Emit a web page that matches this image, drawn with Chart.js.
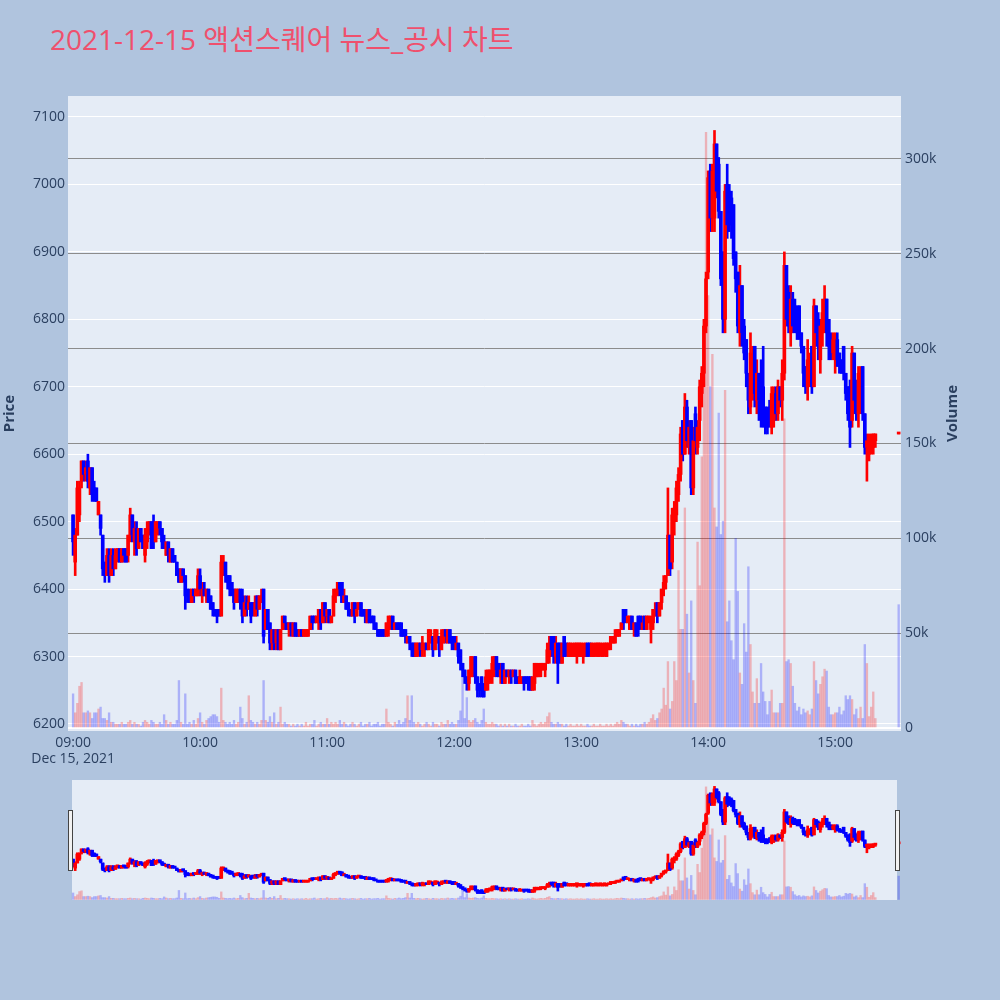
<!DOCTYPE html>
<html>
<head>
<meta charset="utf-8">
<script src="https://cdn.jsdelivr.net/npm/chart.js@4.4.1/dist/chart.umd.min.js"></script>
<style>
  body { margin: 0; background: #B0C4DE; width: 1000px; height: 1000px; overflow: hidden; position: relative; font-family: "Open Sans", "Noto Sans CJK KR", sans-serif; }
  #title { position: absolute; left: 50px; top: 20px; font-size: 28px; line-height: 38px; color: #EF506D; white-space: nowrap; font-family: "Open Sans", "Noto Sans CJK KR", sans-serif; }
  #main { position: absolute; left: 0; top: 0; }
  #slider { position: absolute; left: 0; top: 780px; }
</style>
</head>
<body>
<div id="title">2021-12-15 액션스퀘어 뉴스_공시 차트</div>
<canvas id="main" width="1000" height="780"></canvas>
<canvas id="slider" width="1000" height="120"></canvas>
<script>
// 1-minute candles, 09:00 .. 15:19, plus the 15:30 closing trade
const openP = [
  6510,6440,6480,6510,6560,6590,6570,6590,6550,6580,
  6550,6550,6510,6510,6480,6440,6420,6450,6420,6450,
  6430,6450,6460,6440,6460,6460,6450,6480,6510,6470,
  6490,6460,6490,6480,6450,6470,6490,6500,6500,6470,
  6490,6500,6490,6470,6450,6470,6440,6460,6450,6440,
  6430,6410,6430,6420,6400,6390,6380,6400,6390,6390,
  6420,6390,6400,6390,6400,6390,6380,6370,6370,6370,
  6360,6430,6440,6420,6420,6410,6400,6380,6390,6400,
  6390,6360,6380,6370,6380,6380,6360,6390,6370,6380,
  6400,6340,6370,6350,6320,6340,6320,6340,6310,6340,
  6360,6350,6340,6350,6330,6350,6340,6330,6340,6330,
  6330,6330,6340,6360,6360,6350,6350,6370,6350,6380,
  6360,6370,6350,6360,6390,6400,6410,6410,6380,6390,
  6380,6370,6360,6380,6360,6370,6380,6370,6370,6350,
  6370,6360,6360,6350,6340,6340,6340,6340,6330,6340,
  6350,6360,6340,6350,6350,6350,6340,6340,6320,6330,
  6320,6320,6300,6310,6320,6310,6310,6320,6310,6320,
  6330,6310,6320,6330,6310,6320,6340,6320,6340,6330,
  6330,6310,6320,6310,6290,6280,6270,6260,6270,6280,
  6300,6270,6260,6270,6260,6250,6260,6270,6280,6280,
  6300,6290,6270,6290,6260,6280,6270,6280,6270,6280,
  6270,6260,6260,6270,6270,6270,6270,6250,6260,6270,
  6270,6280,6280,6280,6290,6300,6330,6330,6300,6320,
  6320,6290,6330,6320,6300,6300,6300,6300,6310,6300,
  6300,6300,6300,6320,6320,6300,6300,6310,6300,6310,
  6300,6310,6300,6310,6320,6320,6320,6330,6330,6340,
  6370,6370,6350,6340,6360,6340,6350,6360,6360,6340,
  6360,6340,6350,6340,6350,6360,6380,6360,6380,6400,
  6410,6420,6480,6440,6500,6510,6540,6570,6650,6600,
  6670,6610,6650,6550,6660,6610,6650,6690,6720,6790,
  6870,7020,6950,6950,7060,7030,6960,6900,6800,7000,
  6990,6980,6970,6900,6870,6780,6850,6790,6770,6720,
  6670,6700,6760,6680,6720,6720,6700,6670,6660,6670,
  6640,6650,6690,6660,6700,6680,6720,6880,6840,6780,
  6830,6820,6810,6820,6780,6760,6730,6700,6720,6760,
  6700,6820,6800,6740,6780,6790,6830,6800,6770,6750,
  6750,6770,6750,6740,6760,6720,6700,6700,6650,6750,
  6700,6660,6690,6730,6660,6610,6600,6610,6610,6620,
  6630
];
const highP = [
  6510,6490,6560,6560,6590,6590,6590,6600,6580,6580,
  6560,6550,6530,6510,6480,6440,6460,6460,6460,6460,
  6460,6460,6460,6460,6460,6460,6480,6520,6510,6500,
  6500,6490,6490,6480,6490,6500,6500,6500,6510,6500,
  6500,6500,6490,6480,6470,6470,6460,6460,6450,6440,
  6430,6430,6430,6420,6400,6400,6400,6400,6400,6430,
  6430,6410,6410,6400,6400,6390,6380,6370,6370,6370,
  6450,6450,6440,6420,6420,6410,6400,6400,6400,6400,
  6400,6390,6390,6390,6380,6380,6390,6390,6390,6400,
  6400,6370,6370,6350,6340,6340,6340,6340,6340,6360,
  6360,6350,6350,6350,6350,6350,6340,6340,6340,6340,
  6340,6340,6360,6360,6360,6360,6370,6370,6380,6380,
  6370,6370,6360,6400,6400,6410,6410,6410,6400,6390,
  6380,6370,6380,6380,6380,6380,6380,6370,6370,6370,
  6370,6360,6360,6350,6340,6340,6340,6340,6350,6360,
  6360,6360,6350,6350,6350,6350,6340,6340,6330,6330,
  6320,6320,6320,6320,6320,6330,6320,6320,6340,6340,
  6330,6340,6340,6330,6340,6340,6340,6340,6340,6330,
  6330,6330,6320,6310,6290,6280,6270,6280,6300,6300,
  6300,6270,6260,6270,6260,6280,6280,6280,6300,6300,
  6300,6290,6290,6290,6280,6280,6280,6280,6280,6280,
  6270,6280,6270,6270,6270,6270,6270,6270,6290,6290,
  6290,6290,6290,6290,6320,6330,6330,6330,6330,6320,
  6320,6320,6330,6320,6320,6320,6320,6320,6320,6320,
  6320,6320,6320,6320,6320,6320,6320,6320,6320,6320,
  6320,6320,6320,6320,6330,6330,6340,6340,6340,6350,
  6370,6370,6360,6360,6360,6350,6350,6360,6360,6360,
  6360,6360,6360,6360,6370,6380,6380,6380,6400,6420,
  6420,6550,6480,6520,6530,6560,6580,6640,6650,6690,
  6680,6650,6650,6640,6670,6650,6710,6730,6800,6870,
  7020,7030,7030,7080,7060,7040,6960,6900,7000,7030,
  7000,6990,6970,6900,6870,6880,6850,6800,6770,6720,
  6780,6760,6760,6740,6720,6740,6760,6670,6670,6680,
  6700,6700,6700,6710,6700,6740,6900,6880,6850,6850,
  6840,6830,6820,6820,6780,6760,6730,6770,6750,6760,
  6830,6820,6810,6800,6830,6850,6830,6800,6780,6780,
  6780,6780,6750,6740,6760,6720,6700,6710,6760,6750,
  6710,6730,6730,6730,6660,6630,6630,6630,6630,6630,
  6630
];
const lowP = [
  6450,6420,6480,6500,6550,6560,6560,6550,6540,6530,
  6530,6530,6510,6480,6420,6410,6420,6410,6420,6420,
  6430,6440,6440,6440,6440,6440,6440,6470,6470,6450,
  6450,6460,6470,6460,6440,6460,6480,6460,6460,6470,
  6480,6480,6460,6460,6450,6440,6440,6440,6440,6420,
  6410,6410,6410,6370,6380,6380,6380,6380,6390,6390,
  6390,6380,6390,6380,6380,6370,6360,6360,6350,6360,
  6360,6420,6410,6400,6390,6390,6370,6380,6380,6370,
  6350,6360,6360,6370,6350,6360,6360,6360,6370,6380,
  6320,6340,6340,6310,6310,6310,6310,6310,6310,6340,
  6340,6340,6330,6330,6330,6330,6330,6330,6330,6330,
  6330,6330,6340,6340,6350,6350,6340,6340,6350,6350,
  6350,6350,6350,6360,6380,6390,6390,6380,6380,6370,
  6360,6360,6360,6350,6360,6370,6360,6360,6350,6350,
  6350,6350,6340,6340,6330,6330,6330,6330,6330,6330,
  6340,6340,6340,6340,6340,6330,6330,6320,6320,6310,
  6300,6300,6300,6300,6300,6300,6300,6310,6310,6320,
  6300,6310,6320,6300,6310,6320,6320,6320,6320,6310,
  6310,6310,6290,6280,6270,6260,6250,6250,6270,6270,
  6260,6240,6240,6240,6240,6250,6250,6260,6260,6270,
  6270,6270,6260,6260,6260,6270,6260,6260,6270,6260,
  6260,6260,6260,6250,6260,6250,6250,6250,6250,6270,
  6270,6270,6280,6270,6290,6290,6300,6290,6290,6260,
  6290,6290,6300,6300,6300,6300,6300,6300,6290,6300,
  6300,6290,6300,6300,6300,6300,6300,6300,6300,6300,
  6300,6300,6300,6310,6310,6320,6320,6330,6330,6340,
  6340,6350,6350,6340,6340,6330,6330,6330,6340,6340,
  6340,6340,6350,6320,6340,6360,6350,6360,6370,6390,
  6400,6420,6420,6430,6480,6500,6530,6560,6590,6600,
  6610,6600,6540,6540,6600,6600,6620,6670,6700,6780,
  6860,6930,6930,6930,6980,6950,6850,6780,6780,6920,
  6930,6920,6880,6840,6780,6760,6760,6740,6700,6660,
  6660,6680,6670,6660,6650,6640,6640,6630,6630,6640,
  6630,6640,6650,6650,6670,6650,6710,6790,6780,6760,
  6780,6780,6770,6770,6750,6700,6690,6680,6700,6690,
  6700,6760,6740,6720,6760,6780,6760,6740,6740,6740,
  6720,6730,6720,6720,6710,6680,6650,6610,6640,6660,
  6650,6640,6660,6650,6600,6560,6590,6600,6600,6610,
  6630
];
const closeP = [
  6470,6480,6550,6550,6590,6570,6580,6560,6580,6540,
  6540,6530,6530,6490,6430,6420,6450,6420,6450,6430,
  6450,6460,6440,6460,6450,6440,6480,6510,6480,6490,
  6460,6490,6470,6460,6480,6490,6500,6460,6470,6500,
  6500,6490,6470,6460,6470,6450,6460,6440,6440,6420,
  6410,6430,6420,6390,6390,6380,6400,6390,6400,6420,
  6400,6400,6390,6400,6380,6370,6370,6360,6360,6360,
  6440,6440,6420,6410,6400,6400,6380,6400,6400,6380,
  6360,6380,6370,6380,6360,6370,6380,6370,6390,6390,
  6330,6370,6340,6320,6340,6320,6340,6310,6340,6360,
  6350,6340,6350,6340,6350,6330,6330,6340,6330,6340,
  6340,6340,6360,6350,6350,6360,6370,6350,6380,6360,
  6370,6350,6360,6390,6400,6410,6400,6380,6390,6370,
  6370,6360,6380,6360,6370,6380,6360,6360,6360,6370,
  6350,6350,6350,6340,6330,6330,6330,6330,6350,6360,
  6360,6340,6350,6340,6340,6330,6330,6330,6330,6320,
  6310,6300,6320,6320,6310,6320,6320,6310,6340,6330,
  6310,6340,6330,6310,6330,6340,6330,6340,6320,6320,
  6320,6320,6300,6290,6280,6270,6260,6280,6300,6290,
  6270,6250,6250,6250,6240,6270,6280,6280,6290,6300,
  6280,6270,6280,6260,6280,6270,6280,6270,6280,6260,
  6260,6270,6270,6260,6260,6260,6250,6270,6290,6290,
  6280,6290,6290,6290,6310,6320,6310,6310,6320,6290,
  6300,6320,6300,6310,6320,6320,6310,6320,6320,6320,
  6320,6310,6320,6300,6310,6320,6310,6320,6320,6320,
  6310,6320,6320,6320,6330,6330,6330,6340,6340,6350,
  6350,6360,6360,6360,6340,6350,6330,6340,6350,6350,
  6340,6360,6360,6350,6370,6370,6360,6380,6400,6410,
  6420,6480,6430,6510,6520,6550,6570,6630,6600,6670,
  6620,6640,6550,6620,6620,6640,6700,6720,6790,6860,
  7010,6950,7020,7060,6990,6960,6860,6800,6990,6940,
  6940,6940,6890,6860,6790,6850,6780,6750,6720,6680,
  6750,6720,6690,6720,6680,6660,6660,6640,6640,6650,
  6690,6680,6660,6700,6680,6720,6880,6800,6790,6830,
  6790,6800,6780,6780,6760,6720,6700,6740,6740,6700,
  6820,6780,6760,6790,6810,6830,6780,6760,6750,6770,
  6770,6740,6730,6720,6720,6690,6660,6640,6750,6680,
  6660,6720,6720,6660,6610,6620,6610,6620,6630,6630,
  6630
];
// volume in thousands of shares
const volK = [
  18,8,13,22,24,8,8,9,8,5,
  8,8,10,11,5,5,4,8,3,3,
  2,2,2,3,2,2,3,4,2,3,
  2,2,1,3,4,3,2,4,3,2,
  2,3,2,7,4,2,3,2,2,4,
  25,3,2,18,2,3,2,4,2,5,
  8,3,2,4,5,6,7,7,6,3,
  21,4,3,2,3,2,4,2,3,11,
  5,2,3,17,4,3,2,3,2,4,
  25,4,3,6,3,8,2,3,11,2,
  3,2,2,1,2,1,2,1,2,1,
  3,1,2,2,4,1,2,3,2,2,
  5,2,3,2,3,2,4,2,3,2,
  1,2,3,2,1,2,3,1,2,2,
  3,1,2,2,3,1,2,2,10,3,
  2,1,3,2,4,2,3,5,17,4,
  17,3,2,3,2,1,2,3,2,1,
  3,2,2,1,3,2,2,4,2,3,
  2,2,4,9,32,5,16,4,3,4,
  5,3,2,4,10,3,2,2,3,2,
  2,1,2,1,2,1,2,1,1,2,
  1,1,2,1,1,2,1,4,2,1,
  2,3,2,3,6,8,3,2,2,3,
  2,2,1,2,1,2,1,1,2,1,
  2,1,1,2,1,1,2,1,1,2,
  1,1,2,1,2,1,2,3,2,4,
  3,2,2,1,2,1,2,1,2,2,
  3,2,3,5,7,4,5,8,10,21,
  12,35,10,14,35,25,83,52,52,116,
  60,29,67,25,13,98,75,143,189,314,
  228,180,197,116,106,166,102,109,178,56,
  67,46,36,100,72,29,23,55,40,85,
  44,19,13,26,13,34,19,14,7,14,
  20,8,8,8,13,13,163,35,36,34,
  22,13,9,11,7,10,8,9,7,10,
  35,25,18,23,27,31,30,11,7,7,
  8,8,11,7,9,17,15,17,15,7,
  10,5,11,5,44,34,6,11,19,5,
  65
];
// minutes after 09:00 for each candle
const minutes = [];
for (let i = 0; i < 380; i++) minutes.push(i);
minutes.push(390);

const hourTicks = [0, 60, 120, 180, 240, 300, 360];
const hourLabels = ['09:00', '10:00', '11:00', '12:00', '13:00', '14:00', '15:00'];
const dateLabel = 'Dec 15, 2021';
const priceTicks = [6200, 6300, 6400, 6500, 6600, 6700, 6800, 6900, 7000, 7100];
const volTicks = [0, 50, 100, 150, 200, 250, 300];

const UP = '#ff0000';
const DOWN = '#0000ff';
const FONT = '"Open Sans", "Noto Sans CJK KR", sans-serif';
const TICK_COLOR = '#2a3f5f';

const X_MIN = -2.4, X_MAX = 391.1;
const P_MIN = 6189.6, P_MAX = 7131.1;
const V_MIN = -1.6, V_MAX = 333.2;

function makeDatasets() {
  const isUp = minutes.map((m, i) => closeP[i] >= openP[i]);
  return [
    {
      label: 'body',
      data: minutes.map((m, i) => ({ x: m, y: [openP[i], closeP[i]] })),
      backgroundColor: isUp.map(u => u ? UP : DOWN),
      barThickness: 3, minBarLength: 2, grouped: false, yAxisID: 'y', order: 0
    },
    {
      label: 'wick',
      data: minutes.map((m, i) => ({ x: m, y: [lowP[i], highP[i]] })),
      backgroundColor: isUp.map(u => u ? UP : DOWN),
      barThickness: 2, grouped: false, yAxisID: 'y', order: 1
    },
    {
      label: 'volume',
      data: minutes.map((m, i) => ({ x: m, y: volK[i] })),
      backgroundColor: minutes.map((m, i) => closeP[i] > openP[i] ? 'rgba(255,0,0,0.25)' : 'rgba(0,0,255,0.25)'),
      barThickness: 1.7, grouped: false, yAxisID: 'y2', order: 2
    }
  ];
}

const plotBg = {
  id: 'plotBg',
  beforeDraw(chart, args, opts) {
    const { ctx, chartArea } = chart;
    const left = opts.left !== undefined ? opts.left : chartArea.left;
    const right = opts.right !== undefined ? opts.right : chartArea.right;
    ctx.save();
    ctx.fillStyle = '#E5ECF6';
    ctx.fillRect(left, chartArea.top, right - left, chartArea.bottom - chartArea.top);
    ctx.restore();
  }
};

const axisTitles = {
  id: 'axisTitles',
  afterDraw(chart) {
    const { ctx, chartArea } = chart;
    const midY = (chartArea.top + chartArea.bottom) / 2;
    ctx.save();
    ctx.font = 'bold 15px ' + FONT;
    ctx.fillStyle = TICK_COLOR;
    ctx.textAlign = 'center';
    ctx.textBaseline = 'middle';
    [['Price', 10], ['Volume', 953]].forEach(([txt, x]) => {
      ctx.save();
      ctx.translate(x, midY);
      ctx.rotate(-Math.PI / 2);
      ctx.fillText(txt, 0, 0);
      ctx.restore();
    });
    ctx.restore();
  }
};

const handles = {
  id: 'handles',
  afterDraw(chart) {
    const ctx = chart.ctx;
    ctx.save();
    ctx.fillStyle = '#f2f2f2';
    ctx.strokeStyle = '#444';
    ctx.lineWidth = 1;
    [68.5, 895.5].forEach(x => {
      ctx.fillRect(x, 30.5, 4, 60);
      ctx.strokeRect(x, 30.5, 4, 60);
    });
    ctx.restore();
  }
};

const tickFont = { family: FONT, size: 14 };

new Chart(document.getElementById('main'), {
  type: 'bar',
  data: { datasets: makeDatasets() },
  options: {
    responsive: false,
    animation: false,
    devicePixelRatio: 1,
    layout: { padding: { top: 96, left: 0, right: 0, bottom: 0 } },
    plugins: { legend: { display: false }, tooltip: { enabled: false }, plotBg: {} },
    scales: {
      x: {
        type: 'linear', min: X_MIN, max: X_MAX, offset: false,
        grid: { display: false, drawTicks: false }, border: { display: false },
        afterBuildTicks: s => { s.ticks = hourTicks.map(v => ({ value: v })); },
        afterFit: s => { s.height = 49; },
        ticks: {
          autoSkip: false, maxRotation: 0, padding: 4, color: TICK_COLOR,
          font: { ...tickFont, lineHeight: 1.15 },
          callback: v => {
            const lbl = hourLabels[hourTicks.indexOf(v)];
            return v === 0 ? [lbl, dateLabel] : lbl;
          }
        }
      },
      y: {
        position: 'left', min: P_MIN, max: P_MAX,
        grid: { color: '#ffffff', lineWidth: 1, drawTicks: false }, border: { display: false },
        afterBuildTicks: s => { s.ticks = priceTicks.map(v => ({ value: v })); },
        afterFit: s => { s.width = 68; },
        ticks: { padding: 3, color: TICK_COLOR, font: tickFont, callback: v => String(v) }
      },
      y2: {
        position: 'right', min: V_MIN, max: V_MAX,
        grid: {
          color: c => c.tick && c.tick.value === 0 ? '#ffffff' : '#8c8c8c',
          lineWidth: c => c.tick && c.tick.value === 0 ? 2 : 1,
          drawTicks: false
        },
        border: { display: false },
        afterBuildTicks: s => { s.ticks = volTicks.map(v => ({ value: v })); },
        afterFit: s => { s.width = 99; },
        ticks: { padding: 4, color: TICK_COLOR, font: tickFont, callback: v => v === 0 ? '0' : v + 'k' }
      }
    }
  },
  plugins: [plotBg, axisTitles]
});

new Chart(document.getElementById('slider'), {
  type: 'bar',
  data: { datasets: makeDatasets() },
  options: {
    responsive: false,
    animation: false,
    devicePixelRatio: 1,
    layout: { padding: { top: 0, left: 68, right: 99, bottom: 0 } },
    plugins: { legend: { display: false }, tooltip: { enabled: false }, plotBg: { left: 72, right: 897 } },
    scales: {
      x: { type: 'linear', min: X_MIN, max: X_MAX, offset: false, display: false },
      y: { min: 6190, max: 7130, display: false },
      y2: { min: V_MIN, max: V_MAX, display: false }
    }
  },
  plugins: [plotBg, handles]
});
</script>
</body>
</html>
